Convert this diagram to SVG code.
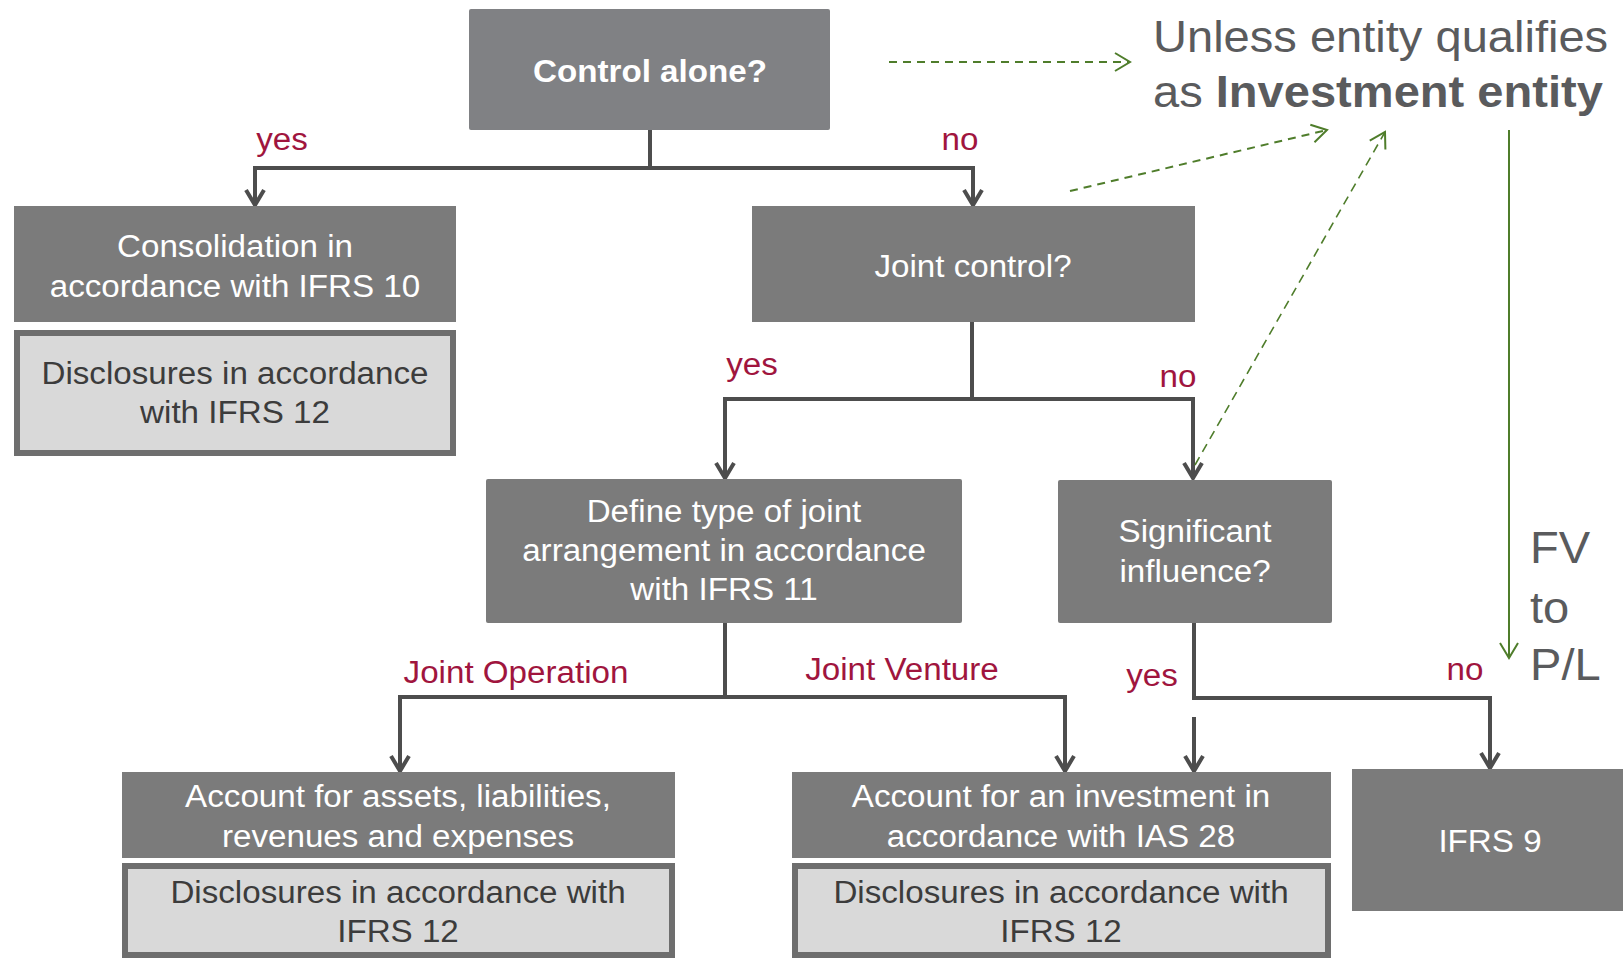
<svg xmlns="http://www.w3.org/2000/svg" width="1623" height="960" viewBox="0 0 1623 960">
<defs>
<style>
.box{fill:#7b7b7b}
.box0{fill:#808184}
.disc{fill:#d9d9d9;stroke:#6e6e6e;stroke-width:6}
.tw{font-family:"Liberation Sans",Arial,sans-serif;font-size:31px;fill:#ffffff;text-anchor:middle}
.tb{font-weight:bold}
.td{font-family:"Liberation Sans",Arial,sans-serif;font-size:31px;fill:#3c3c3c;text-anchor:middle}
.lbl{font-family:"Liberation Sans",Arial,sans-serif;font-size:31px;fill:#a0153e;text-anchor:middle}
.big{font-family:"Liberation Sans",Arial,sans-serif;font-size:44px;fill:#5a5b5d}
.con{fill:none;stroke:#4d4d4d;stroke-width:4}
.gd{fill:none;stroke:#4f7d2b;stroke-width:2;stroke-dasharray:8 6}
.gd2{fill:none;stroke:#4f7d2b;stroke-width:1.6;stroke-dasharray:9 6}
.gs{fill:none;stroke:#4f7d2b;stroke-width:2}
</style>
<marker id="ah" markerUnits="userSpaceOnUse" markerWidth="40" markerHeight="40" refX="0" refY="0" orient="auto" viewBox="-20 -20 40 40" overflow="visible">
<path d="M-15,-9 L0,0 L-15,9" fill="none" stroke="#4d4d4d" stroke-width="4"/>
</marker>
<marker id="gh" markerUnits="userSpaceOnUse" markerWidth="40" markerHeight="40" refX="0" refY="0" orient="auto" viewBox="-20 -20 40 40" overflow="visible">
<path d="M-15,-9 L0,0 L-15,9" fill="none" stroke="#4f7d2b" stroke-width="2"/>
</marker>
</defs>
<rect width="1623" height="960" fill="#ffffff"/>

<g id="connectors">
<path class="con" d="M650,130 V168"/>
<path class="con" d="M652,168 H255 V205" marker-end="url(#ah)"/>
<path class="con" d="M648,168 H973 V205" marker-end="url(#ah)"/>
<path class="con" d="M972,322 V399"/>
<path class="con" d="M974,399 H725 V478" marker-end="url(#ah)"/>
<path class="con" d="M970,399 H1193 V478" marker-end="url(#ah)"/>
<path class="con" d="M725,623 V697"/>
<path class="con" d="M727,697 H400 V771" marker-end="url(#ah)"/>
<path class="con" d="M723,697 H1065 V771" marker-end="url(#ah)"/>
<path class="con" d="M1194,623 V698 H1490 V768" marker-end="url(#ah)"/>
<path class="con" d="M1194,717 V771" marker-end="url(#ah)"/>
<path class="gd" d="M889,62 H1130" marker-end="url(#gh)"/>
<path class="gd" d="M1070,191 L1327,130" marker-end="url(#gh)"/>
<path class="gd2" d="M1195,465 L1385,132" marker-end="url(#gh)"/>
<path class="gs" d="M1509,130 V658" marker-end="url(#gh)"/>
</g>

<g id="labels">
<text class="lbl" transform="translate(282 150) scale(1.07 1)">yes</text>
<text class="lbl" transform="translate(960 150) scale(1.07 1)">no</text>
<text class="lbl" transform="translate(752 375) scale(1.07 1)">yes</text>
<text class="lbl" transform="translate(1178 387) scale(1.07 1)">no</text>
<text class="lbl" transform="translate(516 683) scale(1.07 1)">Joint Operation</text>
<text class="lbl" transform="translate(902 680) scale(1.07 1)">Joint Venture</text>
<text class="lbl" transform="translate(1152 686) scale(1.07 1)">yes</text>
<text class="lbl" transform="translate(1465 680) scale(1.07 1)">no</text>
</g>

<g id="n-control">
<rect class="box0" x="469" y="9" width="361" height="121" rx="2"/>
<text class="tw tb" transform="translate(650 82) scale(1.07 1)">Control alone?</text>
</g>

<g id="n-consolidation">
<rect class="box" x="14" y="206" width="442" height="116"/>
<text class="tw" transform="translate(235 0) scale(1.07 1)"><tspan x="0" y="257">Consolidation in</tspan><tspan x="0" y="297">accordance with IFRS 10</tspan></text>
</g>

<g id="n-disc-10">
<rect class="disc" x="17" y="333" width="436" height="120"/>
<text class="td" transform="translate(235 0) scale(1.07 1)"><tspan x="0" y="384">Disclosures in accordance</tspan><tspan x="0" y="423">with IFRS 12</tspan></text>
</g>

<g id="n-joint">
<rect class="box" x="752" y="206" width="443" height="116"/>
<text class="tw" transform="translate(973 277) scale(1.07 1)">Joint control?</text>
</g>

<g id="n-define">
<rect class="box" x="486" y="479" width="476" height="144" rx="2"/>
<text class="tw" transform="translate(724 0) scale(1.07 1)"><tspan x="0" y="522">Define type of joint</tspan><tspan x="0" y="561">arrangement in accordance</tspan><tspan x="0" y="600">with IFRS 11</tspan></text>
</g>

<g id="n-significant">
<rect class="box" x="1058" y="480" width="274" height="143" rx="2"/>
<text class="tw" transform="translate(1195 0) scale(1.07 1)"><tspan x="0" y="542">Significant</tspan><tspan x="0" y="582">influence?</tspan></text>
</g>

<g id="n-assets">
<rect class="box" x="122" y="772" width="553" height="86"/>
<text class="tw" transform="translate(398 0) scale(1.07 1)"><tspan x="0" y="807">Account for assets, liabilities,</tspan><tspan x="0" y="847">revenues and expenses</tspan></text>
</g>

<g id="n-disc-jo">
<rect class="disc" x="125" y="866" width="547" height="89"/>
<text class="td" transform="translate(398 0) scale(1.07 1)"><tspan x="0" y="903">Disclosures in accordance with</tspan><tspan x="0" y="942">IFRS 12</tspan></text>
</g>

<g id="n-ias28">
<rect class="box" x="792" y="772" width="539" height="86"/>
<text class="tw" transform="translate(1061 0) scale(1.07 1)"><tspan x="0" y="807">Account for an investment in</tspan><tspan x="0" y="847">accordance with IAS 28</tspan></text>
</g>

<g id="n-disc-jv">
<rect class="disc" x="795" y="866" width="533" height="89"/>
<text class="td" transform="translate(1061 0) scale(1.07 1)"><tspan x="0" y="903">Disclosures in accordance with</tspan><tspan x="0" y="942">IFRS 12</tspan></text>
</g>

<g id="n-ifrs9">
<rect class="box" x="1352" y="769" width="280" height="142"/>
<text class="tw" transform="translate(1490 852) scale(1.07 1)">IFRS 9</text>
</g>

<g id="n-investment-entity">
<text class="big" transform="translate(1153 0) scale(1.07 1)"><tspan x="0" y="52">Unless entity qualifies</tspan><tspan x="0" y="107">as <tspan font-weight="bold">Investment entity</tspan></tspan></text>
</g>

<g id="n-fv">
<text class="big" transform="translate(1530 0) scale(1.07 1)"><tspan x="0" y="563">FV</tspan><tspan x="0" y="623">to</tspan><tspan x="0" y="680">P/L</tspan></text>
</g>
</svg>
